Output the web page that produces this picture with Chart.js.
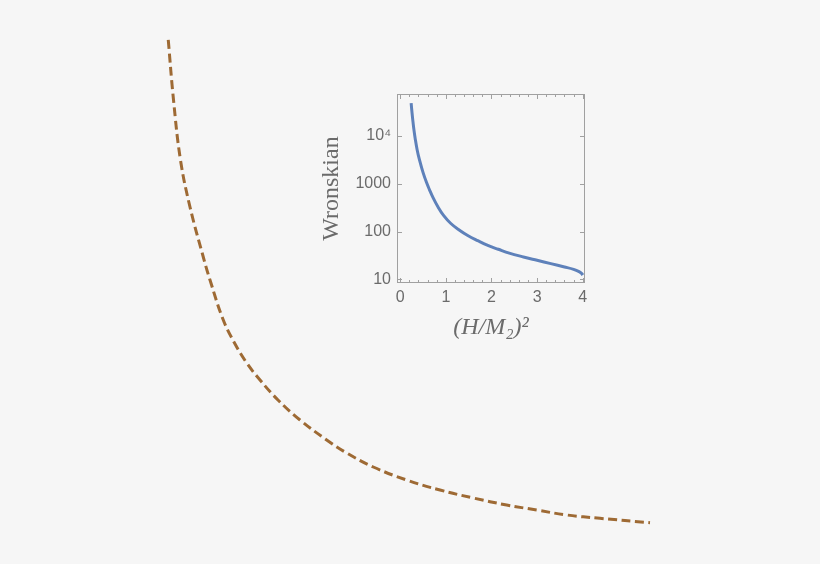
<!DOCTYPE html>
<html>
<head>
<meta charset="utf-8">
<script src="https://cdn.jsdelivr.net/npm/chart.js@4"></script>
<style>
  body { margin: 0; background: #f6f6f6; }
  #wrap { position: relative; width: 820px; height: 564px; }
  #bigBox { position: absolute; left: 0; top: 0; width: 820px; height: 564px; }
  #insetBox { position: absolute; left: 310px; top: 85px; width: 285px; height: 265px; }
</style>
</head>
<body>
<div id="wrap">
  <div id="bigBox"><canvas id="bigChart"></canvas></div>
  <div id="insetBox"><canvas id="insetChart"></canvas></div>
</div>
<script>
// main (dashed) curve, arbitrary units, no axes shown
const dashX = [2.052, 2.116, 2.201, 2.317, 2.479, 2.561, 2.723, 2.860, 3.009, 3.171, 3.390, 3.659,
               3.984, 4.228, 4.552, 4.960, 5.366, 5.772, 6.179, 6.545, 6.911, 7.317, 7.927];
const dashY = [9.291, 8.227, 7.163, 6.330, 5.443, 5.035, 4.326, 3.918, 3.564, 3.262, 2.908, 2.553,
               2.199, 1.968, 1.720, 1.489, 1.312, 1.170, 1.046, 0.957, 0.869, 0.810, 0.732];

// inset: Wronskian vs (H/M2)^2
const wronX = [0.24, 0.26, 0.28, 0.30, 0.33, 0.37, 0.42, 0.50, 0.58, 0.64, 0.72, 0.82, 0.95, 1.11,
               1.30, 1.48, 1.70, 1.92, 2.15, 2.39, 2.70, 3.00, 3.30, 3.60, 3.80, 3.92, 3.98, 4.00];
const wronY = [49000, 30200, 20000, 13800, 8710, 5250, 3240, 1740, 1050, 760, 513, 339, 219, 148,
               107, 83, 64.6, 51.3, 42.7, 35.5, 29.5, 25.1, 21.4, 18.2, 16.2, 14.5, 13.2, 12.3];

const xTicks = [0, 1, 2, 3, 4];
const yTicks = [10, 100, 1000, 10000];
const yTickLabels = ['10', '100', '1000', '10\u2074'];

const textGrey = '#6b6b6b';
const frameGrey = '#a0a0a0';

function pairs(xs, ys) {
    return xs.map((x, i) => ({ x: x, y: ys[i] }));
}

new Chart(document.getElementById('bigChart').getContext('2d'), {
    type: 'scatter',
    data: {
        datasets: [{
            data: pairs(dashX, dashY),
            showLine: true,
            borderColor: 'rgb(158, 106, 52)',
            borderWidth: 3,
            borderDash: [9, 4.5],
            pointRadius: 0,
            tension: 0.4
        }]
    },
    options: {
        responsive: true,
        maintainAspectRatio: false,
        animation: false,
        layout: { padding: 0 },
        scales: {
            x: { type: 'linear', display: false, min: 0, max: 10 },
            y: { type: 'linear', display: false, min: 0, max: 10 }
        },
        plugins: { legend: { display: false }, tooltip: { enabled: false } }
    }
});

// frame + inward ticks, Mathematica style
const frameTicks = {
    id: 'frameTicks',
    afterDraw(chart) {
        const { ctx, chartArea: a, scales } = chart;
        ctx.save();
        ctx.strokeStyle = frameGrey;
        ctx.lineWidth = 1;
        ctx.strokeRect(a.left + 0.5, a.top + 0.5, a.right - a.left - 1, a.bottom - a.top - 1);
        ctx.beginPath();
        for (let i = 0; i <= 20; i++) {
            const v = i * 0.2;
            const px = Math.round(scales.x.getPixelForValue(v)) + 0.5;
            const len = (i % 5 === 0) ? 5 : 3;
            ctx.moveTo(px, a.bottom); ctx.lineTo(px, a.bottom - len);
            ctx.moveTo(px, a.top); ctx.lineTo(px, a.top + len);
        }
        yTicks.forEach(v => {
            const py = Math.round(scales.y.getPixelForValue(v)) + 0.5;
            ctx.moveTo(a.left, py); ctx.lineTo(a.left + 5, py);
            ctx.moveTo(a.right, py); ctx.lineTo(a.right - 5, py);
        });
        ctx.stroke();
        ctx.restore();
    }
};

new Chart(document.getElementById('insetChart').getContext('2d'), {
    type: 'scatter',
    data: {
        datasets: [{
            data: pairs(wronX, wronY),
            showLine: true,
            borderColor: 'rgb(94, 129, 186)',
            borderWidth: 3,
            pointRadius: 0,
            tension: 0.4
        }]
    },
    options: {
        responsive: true,
        maintainAspectRatio: false,
        animation: false,
        layout: { padding: { top: 9, right: 10, left: 0, bottom: 0 } },
        scales: {
            x: {
                type: 'linear',
                min: -0.07,
                max: 4.05,
                afterFit(scale) { scale.height = 67; scale.paddingLeft = 0; scale.paddingRight = 0; },
                afterBuildTicks(scale) { scale.ticks = xTicks.map(v => ({ value: v })); },
                grid: { display: false, drawTicks: false },
                border: { display: false },
                ticks: {
                    color: textGrey,
                    padding: 5,
                    maxRotation: 0,
                    font: { family: 'Liberation Sans', size: 16 },
                    callback: v => String(v)
                },
                title: {
                    display: true,
                    text: '(H/M\u2082)\u00b2',
                    color: textGrey,
                    padding: { top: 0, bottom: 8 },
                    font: { family: 'Liberation Serif', size: 24, style: 'italic' }
                }
            },
            y: {
                type: 'logarithmic',
                min: 8.4,
                max: 76000,
                afterFit(scale) { scale.width = 87; scale.paddingTop = 0; scale.paddingBottom = 0; },
                afterBuildTicks(scale) { scale.ticks = yTicks.map(v => ({ value: v })); },
                grid: { display: false, drawTicks: false },
                border: { display: false },
                ticks: {
                    color: textGrey,
                    padding: 6,
                    font: { family: 'Liberation Sans', size: 16 },
                    callback: (v) => yTickLabels[yTicks.indexOf(v)] || ''
                },
                title: {
                    display: true,
                    text: 'Wronskian',
                    color: textGrey,
                    padding: { top: 7, bottom: 0 },
                    font: { family: 'Liberation Serif', size: 24 }
                }
            }
        },
        plugins: { legend: { display: false }, tooltip: { enabled: false } }
    },
    plugins: [frameTicks]
});
</script>
</body>
</html>
